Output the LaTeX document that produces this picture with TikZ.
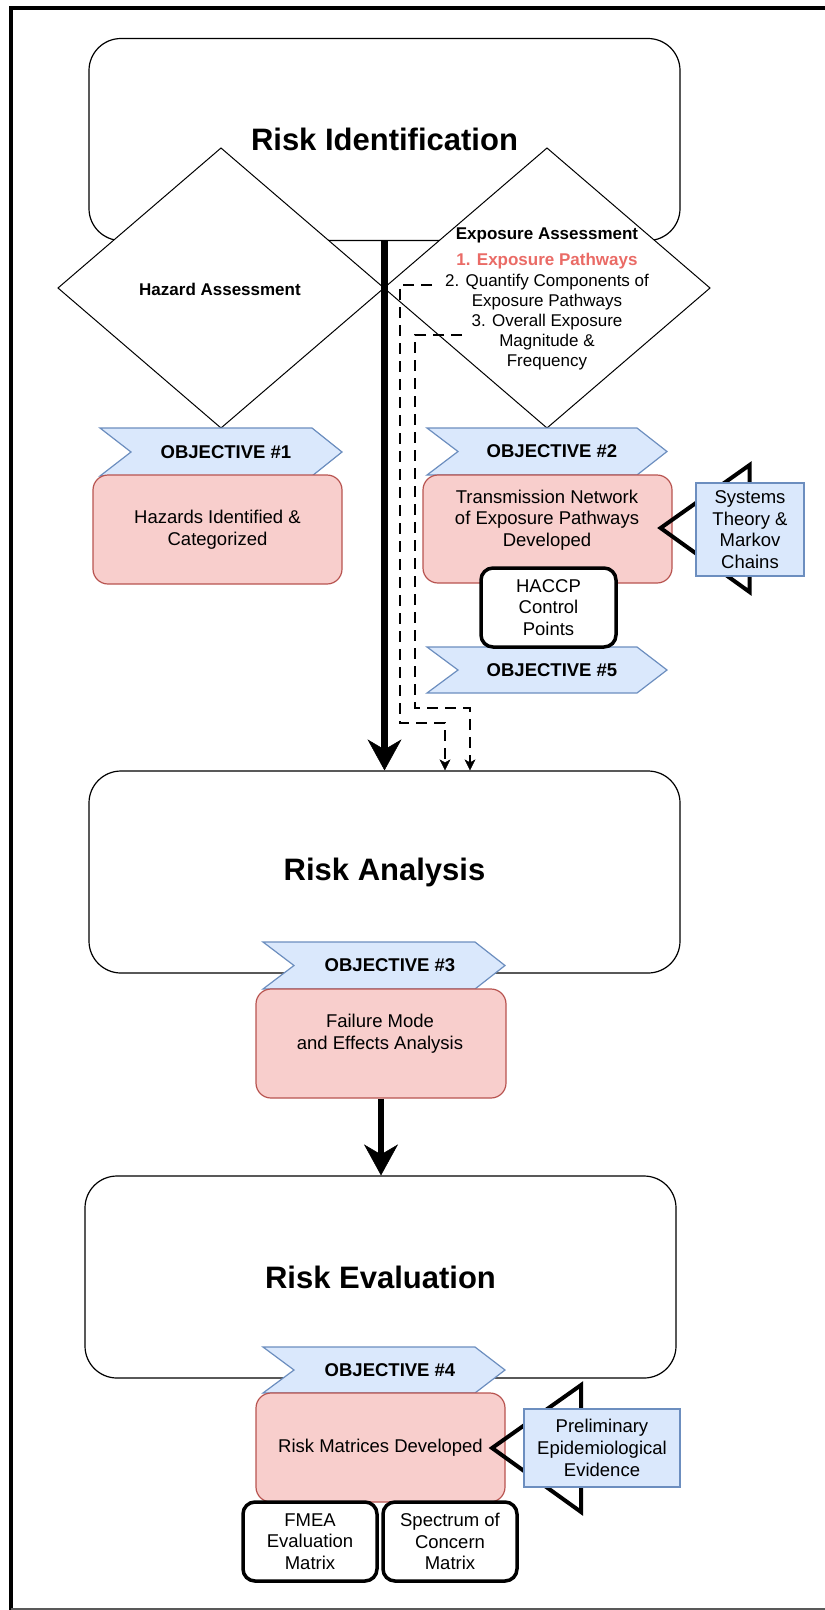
\documentclass[tikz,border=0pt]{standalone}
\usepackage{fontspec}
\setmainfont{Liberation Sans}
\usetikzlibrary{arrows.meta,calc}

\definecolor{pinkfill}{HTML}{F8CECC}
\definecolor{pinkline}{HTML}{B85450}
\definecolor{bluefill}{HTML}{DAE8FC}
\definecolor{blueline}{HTML}{6C8EBF}
\definecolor{accentred}{HTML}{EA6B66}

\newcommand\fsreg{\fontsize{18.5}{21.7}\selectfont}
\newcommand\fsdia{\fontsize{17}{20.2}\selectfont}
\newcommand\fsban{\fontsize{18.5}{22}\selectfont\bfseries}
\newcommand\fstitle{\fontsize{31}{36}\selectfont\bfseries}

% objective banner: left x, top y, right corner x, bottom y
\newcommand\objshape[4]{%
  \draw[banner] (#1,#2) -- (#3,#2) -- ({#3+30},{(#2+#4)/2}) -- (#3,#4)
    -- (#1,#4) -- ({#1+31},{(#2+#4)/2}) -- cycle;}

\begin{document}
\begin{tikzpicture}[x=1pt,y=-1pt,
  stage/.style={draw=black, line width=1.2pt, fill=white, rounded corners=32pt,
    minimum width=591pt, minimum height=202pt, inner sep=0pt, font=\fstitle},
  result/.style={draw=pinkline, fill=pinkfill, line width=1.2pt, rounded corners=15pt,
    inner sep=0pt, align=center, font=\fsreg},
  method/.style={draw=black, fill=white, line width=3.5pt, rounded corners=12pt,
    inner sep=0pt, align=center, font=\fsreg},
  source/.style={draw=blueline, fill=bluefill, line width=1.2pt, inner sep=0pt,
    align=center, font=\fsreg},
  banner/.style={draw=blueline, fill=bluefill, line width=1.2pt, line join=miter},
  bantext/.style={font=\fsban, inner sep=0pt},
  diam/.style={draw=black, fill=white, line width=1pt},
  openhead/.style={draw=black, line width=4pt, line join=miter},
  flow/.style={line width=6.5pt, -{Stealth[length=31pt,width=34pt,inset=10pt,line width=0.5pt]}},
  feed/.style={line width=2.5pt, dash pattern=on 11pt off 7pt,
    -{Stealth[length=11pt,width=11pt,inset=3pt,line width=0.5pt]}},
  txt/.style={inner sep=0pt, align=center}
]
\useasboundingbox (0,0) rectangle (825,1610);

% outer frame
\draw[line width=4pt] (11,1612) -- (11,8) -- (827,8);
\draw[line width=2pt, black!65] (11,1608.5) -- (827,1608.5);

% stage 1 with its two assessments
\node[stage] (ident) at (384.5,139.5) {Risk Identification};
\draw[diam] (221,148) -- (384,288) -- (221,428) -- (58,288) -- cycle;
\draw[diam] (547,148) -- (710,288) -- (547,428) -- (384,288) -- cycle;
\node[txt, font=\fsdia\bfseries] (hazT) at (220,289) {Hazard Assessment};
\node[txt, font=\fsdia\bfseries] (expT) at (547,235) {Exposure Assessment};
\node[txt, font=\fsdia] (expL) at (547,312) {\textcolor{accentred}{\bfseries 1. Exposure Pathways}\\
  2. Quantify Components of\\Exposure Pathways\\3. Overall Exposure\\Magnitude \&\\Frequency};

% stages 2 and 3
\node[stage] (analysis) at (384.5,872) {Risk Analysis};
\node[stage] (evaluation) at (380.5,1277) {Risk Evaluation};

% objectives
\objshape{100}{428}{312}{476}
\node[bantext] (obj1) at (226,452) {OBJECTIVE \#1};
\objshape{427}{428}{637}{475}
\node[bantext] (obj2) at (552,451.5) {OBJECTIVE \#2};
\objshape{427}{647}{637}{693}
\node[bantext] (obj5) at (552,670) {OBJECTIVE \#5};
\objshape{263}{942}{475}{989}
\node[bantext] (obj3) at (390,965.5) {OBJECTIVE \#3};
\objshape{263}{1347}{475}{1393}
\node[bantext] (obj4) at (390,1370) {OBJECTIVE \#4};

% outcomes
\node[result, minimum width=249pt, minimum height=109pt] (hazards) at (217.5,529.5)
  {Hazards Identified \&\\Categorized};
\node[result, minimum width=249pt, minimum height=108pt] (network) at (547.5,529) {};
\node[txt, font=\fsreg] (networkT) at (547,520)
  {Transmission Network\\of Exposure Pathways\\Developed};
\node[result, minimum width=250pt, minimum height=109pt] (fmea) at (381,1043.5) {};
\node[txt, font=\fsreg] (fmeaT) at (380,1033.5) {Failure Mode\\and Effects Analysis};
\node[result, minimum width=249pt, minimum height=109pt] (matrices) at (380.5,1447.5)
  {Risk Matrices Developed};

% methods
\node[method, minimum width=135pt, minimum height=79pt] (haccp) at (548.5,607.5)
  {HACCP\\Control\\Points};
\node[method, minimum width=134pt, minimum height=79pt] (fmeaeval) at (310,1541.5)
  {FMEA\\Evaluation\\Matrix};
\node[method, minimum width=134pt, minimum height=79pt] (spectrum) at (450,1541.5)
  {Spectrum of\\Concern\\Matrix};

% open heads of the supporting inputs
\draw[openhead] ($(network.east)+(-12,-1)$) -- ++(89,-63) -- ++(0,127) -- cycle;
\draw[openhead] ($(matrices.east)+(-13.5,0.5)$) -- ++(89,-63) -- ++(0,127) -- cycle;
\node[source, minimum width=108pt, minimum height=93pt] (systems) at (750,529.5)
  {Systems\\Theory \&\\Markov\\Chains};
\node[source, minimum width=156pt, minimum height=78pt] (prelim) at (602,1448)
  {Preliminary\\Epidemiological\\Evidence};

% main flow
\draw[flow] (ident.south) -- (analysis.north);
\draw[flow] (fmea.south) -- (fmea.south |- evaluation.north);

% exposure feeds into analysis
\coordinate (q2) at (432,285);
\coordinate (q3) at (462,335);
\coordinate (d1) at (445,723);
\coordinate (d2) at (470,708);
\draw[feed] (q2) -- (400,285) -- (400,723) -- (d1) -- (d1 |- analysis.north);
\draw[feed] (q3) -- (415,335) -- (415,708) -- (d2) -- (d2 |- analysis.north);
\end{tikzpicture}
\end{document}
